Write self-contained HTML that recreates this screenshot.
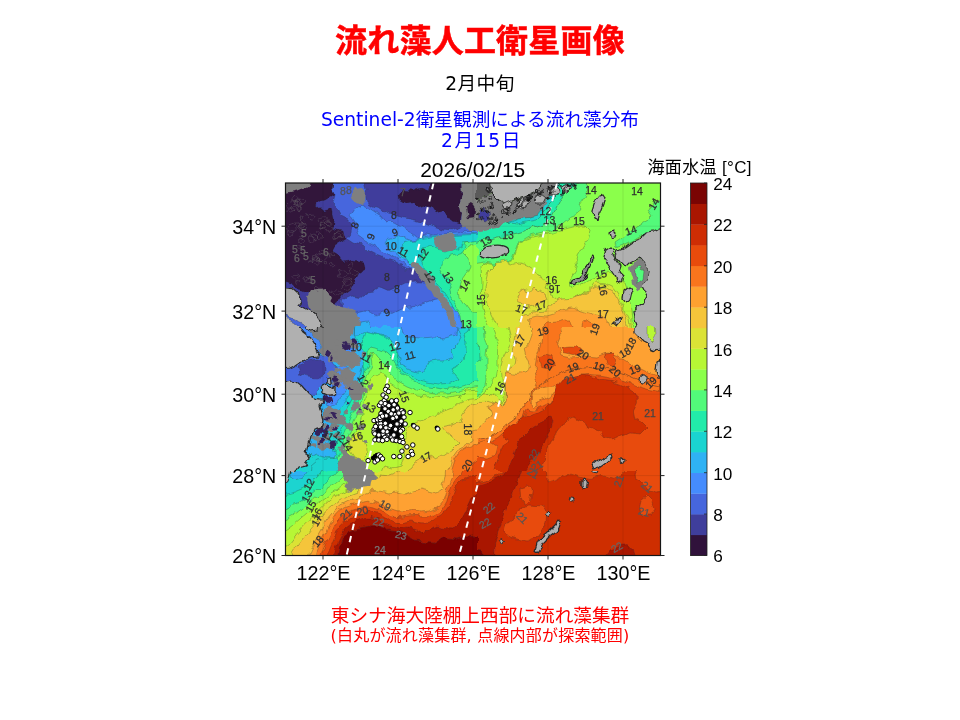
<!DOCTYPE html>
<html lang="ja"><head><meta charset="utf-8"><title>流れ藻人工衛星画像</title>
<style>
html,body{margin:0;padding:0;background:#fff;}
body{width:960px;height:720px;position:relative;overflow:hidden;font-family:"Liberation Sans","Noto Sans CJK JP",sans-serif;}
.t{position:absolute;white-space:nowrap;line-height:1;}
#title{left:0;width:960px;text-align:center;top:24.5px;letter-spacing:0.2px;font-size:32px;font-weight:700;-webkit-text-stroke:0.5px #f00;color:#f00;font-family:"Liberation Sans","Noto Sans CJK JP",sans-serif;}
#sub{left:0;width:960px;text-align:center;top:74.5px;letter-spacing:0.4px;font-size:18.67px;color:#000;font-family:"DejaVu Sans","Noto Sans CJK JP",sans-serif;}
#b1{left:0;width:960px;text-align:center;top:110.5px;font-size:18.67px;color:#00f;font-family:"DejaVu Sans","Noto Sans CJK JP",sans-serif;}
#b2{left:1.5px;width:960px;text-align:center;top:132px;letter-spacing:1.6px;font-size:18.67px;color:#00f;font-family:"DejaVu Sans","Noto Sans CJK JP",sans-serif;}
#r1{left:0;width:960px;text-align:center;top:607px;font-size:18.67px;color:#f00;font-family:"DejaVu Sans","Noto Sans CJK JP",sans-serif;}
#r2{left:0;width:960px;text-align:center;top:628px;letter-spacing:0.2px;font-size:16px;color:#f00;font-family:"DejaVu Sans","Noto Sans CJK JP",sans-serif;}
svg{position:absolute;left:0;top:0;}
.k{stroke:#2b2b2b;stroke-opacity:.6;stroke-width:2.4;stroke-linejoin:round}
svg text{font-family:"Liberation Sans","Noto Sans CJK JP",sans-serif;}
</style></head><body>
<div class="t" id="title">流れ藻人工衛星画像</div>
<div class="t" id="sub">2月中旬</div>
<div class="t" id="b1">Sentinel-2衛星観測による流れ藻分布</div>
<div class="t" id="b2">2月15日</div>
<div class="t" id="r1">東シナ海大陸棚上西部に流れ藻集群</div>
<div class="t" id="r2">(白丸が流れ藻集群, 点線内部が探索範囲)</div>
<svg width="960" height="720" viewBox="0 0 960 720">
<defs><clipPath id="mapclip"><rect x="285.5" y="183" width="375" height="372.5"/></clipPath></defs>
<filter id="rough" filterUnits="userSpaceOnUse" x="275.5" y="173" width="395" height="392.5"><feTurbulence type="fractalNoise" baseFrequency="0.11" numOctaves="2" seed="4" result="n"/><feDisplacementMap in="SourceGraphic" in2="n" scale="7" xChannelSelector="R" yChannelSelector="G"/></filter>
<g clip-path="url(#mapclip)">
<g filter="url(#rough)">
<rect x="285.5" y="183" width="375" height="372.5" fill="#ce2d04"/>
<svg x="281" y="179" width="196" height="148" viewBox="-20 -20 980 740" preserveAspectRatio="none" style="position:static">
<polygon fill="#3f3e9c" class="k" points="-20,-20 980,-20 980,740 -20,740"/>
<polygon fill="#4666dd" class="k" points="245,-20 235,30 250,60 240,100 270,130 280,160 320,180 335,215 330,250 310,275 340,295 390,310 420,340 460,360 500,375 540,385 580,410 610,430 640,440 700,460 980,460 980,230 880,215 830,235 790,230 740,215 700,200 650,185 600,175 560,165 530,145 500,150 470,130 440,120 410,100 400,60 410,30 400,-20"/>
<polygon fill="#4666dd" class="k" points="285,585 330,565 370,572 400,545 450,540 480,520 520,537 560,520 600,500 650,495 980,495 980,740 300,740"/>
<polygon fill="#458cfd" class="k" points="380,110 350,130 330,160 350,190 370,230 360,260 400,290 440,310 470,330 510,350 540,370 580,390 620,420 660,450 720,480 760,520 790,560 980,560 980,240 760,250 740,260 715,250 690,270 665,280 630,250 605,235 580,220 545,200 520,195 500,200 480,170 450,150 420,130"/>
<polygon fill="#458cfd" class="k" points="345,655 400,640 450,660 490,640 540,652 580,632 640,622 700,600 750,582 800,572 980,572 980,740 340,740"/>
<polygon fill="#2fb2f4" class="k" points="500,300 512,283 540,278 560,268 590,262 612,278 640,290 665,283 700,268 740,262 980,250 980,600 800,600 780,560 740,500 690,455 650,425 625,405 600,385 570,368 545,352 520,332"/>
<polygon fill="#2fb2f4" class="k" points="370,740 380,695 410,690 430,740"/>
<polygon fill="#1ad4d0" class="k" points="580,330 600,300 630,292 660,290 700,275 740,268 980,255 980,620 820,620 790,570 750,510 700,460 660,430 630,410 605,385 585,360"/>
<polygon fill="#22ebaa" class="k" points="690,325 720,318 760,335 800,345 850,330 900,300 980,290 980,640 850,640 830,600 790,540 760,500 730,470 700,420 680,380 680,350"/>
<polygon fill="#52fa7a" class="k" points="980,285 940,290 905,300 890,340 870,350 830,362 800,380 780,397 776,430 800,470 820,500 830,540 836,580 860,620 880,660 890,740 980,740"/>
<polygon fill="#8bff4b" class="k" points="980,305 930,310 900,332 892,352 920,380 925,420 910,450 882,490 866,530 870,570 890,600 910,630 940,650 980,655"/>
<polygon fill="#30123b" class="k" points="-20,-20 245,-20 235,30 250,60 225,75 180,90 155,110 190,140 230,130 242,180 235,230 290,240 300,280 250,310 235,340 270,360 290,400 330,390 400,400 405,430 370,450 350,490 330,530 290,560 270,590 240,610 200,640 180,600 140,560 100,540 60,530 30,500 -20,490"/>
<path d="M210,373 L198,384 L186,395 L173,388 L165,379 L150,364 L170,353 L187,353 L204,358Z M146,391 L141,399 L132,399 L118,397 L124,386 L132,384 L139,386Z M175,534 L169,543 L153,545 L152,534 L153,522 L167,525Z M63,198 L59,206 L49,205 L45,198 L51,192 L59,188Z M43,142 L31,152 L21,150 L13,142 L19,131 L36,126Z M236,545 L236,553 L227,552 L218,550 L220,542 L227,539 L233,540Z M126,474 L115,481 L109,489 L101,483 L89,480 L93,471 L103,466 L109,464 L113,469Z M157,380 L157,386 L150,389 L141,387 L142,380 L146,375 L150,371 L154,376Z M84,101 L76,112 L62,118 L51,109 L38,101 L50,91 L62,83 L73,90Z M246,401 L236,409 L226,409 L222,401 L228,396 L234,397Z M219,189 L211,201 L195,205 L182,206 L172,196 L168,181 L185,176 L196,174 L214,174Z M93,180 L95,186 L86,186 L73,190 L79,180 L74,170 L86,171 L96,172Z M341,410 L336,421 L324,419 L315,410 L325,400 L337,398Z M332,506 L323,529 L287,533 L287,506 L299,491 L320,487Z M95,213 L88,218 L82,226 L73,223 L68,219 L66,213 L71,208 L73,200 L83,198 L90,206Z M35,252 L34,263 L24,268 L14,260 L15,252 L12,242 L24,234 L38,239Z M235,222 L222,238 L205,239 L190,233 L180,212 L205,204 L220,211Z M208,399 L206,406 L197,405 L196,399 L197,393 L206,391Z M146,167 L137,175 L131,181 L120,177 L115,167 L118,153 L131,150 L141,158Z M192,270 L192,280 L179,280 L171,284 L166,276 L161,270 L167,265 L171,254 L181,255 L186,265Z M78,109 L71,120 L63,121 L57,116 L42,114 L46,103 L52,98 L63,97 L67,103Z M73,81 L59,88 L54,92 L45,93 L38,91 L35,81 L41,75 L46,67 L54,69 L62,71Z M97,288 L93,295 L86,296 L73,299 L67,288 L77,280 L86,276 L97,278Z M367,449 L352,459 L341,468 L326,457 L326,440 L337,424 L357,436Z M244,359 L243,369 L228,367 L219,372 L217,363 L217,355 L222,351 L230,342 L240,350Z M82,324 L78,330 L72,332 L66,331 L63,327 L57,320 L66,315 L73,313 L79,318Z M178,386 L175,398 L161,411 L143,399 L137,386 L138,368 L161,366 L177,371Z M99,89 L96,102 L77,104 L70,89 L79,73 L93,78Z M206,342 L202,347 L197,353 L188,354 L186,347 L171,342 L183,333 L191,334 L197,331 L200,337Z M57,108 L52,119 L43,123 L32,121 L18,121 L8,108 L19,96 L31,88 L41,96 L59,95Z M140,485 L132,496 L118,498 L99,494 L100,475 L116,461 L132,473Z M55,230 L56,242 L41,247 L24,246 L7,230 L22,213 L41,207 L53,219Z M164,265 L159,274 L149,276 L141,276 L139,268 L128,259 L143,256 L149,256 L155,260Z M177,386 L185,394 L173,393 L167,394 L161,393 L159,386 L159,379 L167,376 L176,371 L181,379Z M321,457 L296,469 L287,476 L272,475 L271,461 L273,452 L264,431 L287,439 L306,441Z M149,278 L140,287 L132,295 L125,286 L115,278 L120,264 L132,267 L140,270Z M94,217 L89,224 L80,227 L70,226 L71,217 L72,209 L80,210 L91,209Z M333,494 L319,504 L301,509 L285,494 L306,481 L320,479Z M74,491 L71,495 L66,496 L60,494 L59,488 L66,486 L72,487Z M225,354 L226,361 L216,365 L213,359 L204,354 L207,347 L216,348 L226,346Z M204,224 L197,233 L187,230 L177,224 L184,215 L194,217Z M94,271 L88,278 L82,281 L78,275 L70,271 L77,267 L82,261 L85,267Z M85,130 L77,145 L65,138 L53,130 L59,114 L79,116Z M141,502 L137,506 L134,511 L128,509 L125,507 L119,502 L122,495 L128,494 L134,492 L140,497Z M177,247 L175,252 L169,253 L164,253 L159,247 L160,240 L169,240 L175,239Z M292,264 L282,278 L270,276 L245,282 L249,264 L251,248 L270,246 L284,247Z M92,322 L91,327 L87,329 L82,327 L74,326 L77,319 L83,317 L89,311 L93,316Z M79,124 L75,145 L55,139 L29,145 L25,124 L39,111 L55,109 L71,109Z M231,194 L225,204 L213,209 L203,204 L200,197 L201,190 L206,187 L212,186 L220,186Z M128,468 L128,474 L121,474 L119,470 L115,464 L120,461 L129,461Z M110,225 L99,242 L78,240 L60,225 L77,204 L100,201Z M69,466 L58,472 L50,482 L45,472 L38,466 L45,460 L50,457 L61,456Z M292,555 L269,565 L258,567 L249,562 L245,546 L258,534 L274,542Z M178,378 L176,386 L167,390 L165,381 L161,374 L168,367 L176,373Z M275,261 L269,281 L243,277 L238,261 L248,250 L263,249Z" fill="none" stroke="#6a6a6a" stroke-opacity="0.85" stroke-width="2.2"/>
<polygon fill="#30123b" class="k" points="570,60 590,35 640,40 680,25 720,40 735,-20 880,-20 885,60 870,110 880,160 870,200 840,190 820,160 790,140 760,150 740,120 700,110 670,120 640,100 600,105 575,90"/>
<polygon fill="#7f7f7f" points="-20,-20 150,-20 110,18 60,38 -20,55"/>
<polygon fill="#7f7f7f" points="330,50 350,25 390,20 405,50 400,90 380,110 350,100 335,80"/>
<polygon fill="#7f7f7f" points="880,-20 980,-20 980,250 920,240 890,220 875,200 880,160 870,110 885,60"/>
<polygon fill="#30123b" class="k" points="905,120 930,100 950,130 945,170 915,175"/>
<polygon fill="#7f7f7f" points="745,290 760,262 800,250 840,255 862,280 860,315 830,340 790,345 755,325"/>
<polygon fill="#7f7f7f" points="640,395 665,400 700,430 730,470 760,510 790,555 815,595 840,640 860,740 835,740 815,660 780,600 750,560 720,530 690,490 655,450 635,420"/>
<polygon fill="#7f7f7f" points="130,540 200,530 230,590 280,620 340,630 380,670 375,740 175,740 170,700 150,660 120,620 110,575"/>
<polygon fill="#b0b0b0" stroke="#2a2a2a" stroke-width="6" points="-20,522 35,528 65,555 85,590 70,610 100,625 140,645 170,680 195,740 -20,740"/>
<polygon fill="#4666dd" class="k" points="10,665 40,680 90,700 130,740 100,740 60,705 15,685"/>
</svg>
<svg x="281" y="327" width="196" height="144" viewBox="-20 0 980 720" preserveAspectRatio="none" style="position:static">
<polygon fill="#b7f735" class="k" points="-20,-20 980,-20 980,740 -20,740"/>
<polygon fill="#8bff4b" class="k" points="980,315 900,320 880,340 880,360 875,340 820,350 760,345 705,350 655,345 620,330 580,325 570,305 530,280 500,250 480,225 450,240 425,270 410,300 405,360 390,410 380,460 370,490 350,520 335,550 320,580 310,610 300,630 260,740 -20,740 -20,-20 980,-20"/>
<polygon fill="#52fa7a" class="k" points="980,295 920,305 870,320 820,330 760,330 710,325 660,315 610,295 565,270 530,240 510,200 480,170 460,150 440,125 430,150 435,190 420,225 400,260 390,300 385,360 370,410 350,460 330,510 315,550 305,585 295,620 250,740 -20,740 -20,-20 980,-20"/>
<polygon fill="#22ebaa" class="k" points="980,270 930,280 890,295 840,305 780,310 720,300 670,285 620,260 580,230 555,200 535,150 510,125 480,115 455,105 430,100 415,130 420,170 405,215 385,250 375,300 368,360 350,410 330,460 305,510 290,560 280,600 240,740 -20,740 -20,-20 980,-20"/>
<polygon fill="#1ad4d0" class="k" points="930,-20 920,20 895,40 905,75 905,125 895,165 870,190 830,210 850,240 865,260 830,280 765,285 705,275 645,255 600,230 565,200 555,160 560,125 605,115 580,90 530,65 480,40 440,30 400,20 390,60 385,100 380,125 385,165 395,215 390,265 370,300 350,330 330,370 310,410 295,450 285,500 270,540 255,580 250,620 230,740 -20,740 -20,-20"/>
<polygon fill="#2fb2f4" class="k" points="860,-20 870,20 880,50 860,90 830,120 840,155 800,170 760,170 720,175 705,200 680,230 630,215 580,190 560,125 545,80 520,50 480,35 440,25 400,15 370,40 345,40 350,-20"/>
<polygon fill="#2fb2f4" class="k" points="350,-20 345,40 370,80 395,120 400,150 385,200 375,250 355,290 335,320 300,370 270,410 250,450 235,500 215,535 225,580 240,610 260,640 250,660 200,650 160,640 130,650 110,630 -20,630 -20,-20"/>
<polygon fill="#458cfd" class="k" points="575,-20 590,30 620,50 680,55 740,50 800,55 855,40 860,-20"/>
<polygon fill="#458cfd" class="k" points="295,95 350,95 350,125 300,125"/>
<polygon fill="#458cfd" class="k" points="240,190 280,190 320,210 340,250 320,300 290,340 260,380 230,400 200,390 210,340 230,290 250,240"/>
<polygon fill="#458cfd" class="k" points="55,-20 90,-20 130,35 170,70 185,100 170,135 155,100 130,60 90,30"/>
<polygon fill="#1ad4d0" class="k" points="125,740 130,690 160,665 220,660 260,665 275,690 270,740"/>
<polygon fill="#4666dd" class="k" points="-20,210 25,205 55,190 85,170 120,155 165,150 200,140 240,170 260,220 250,260 220,280 180,300 140,340 115,330 90,300 60,275 30,270 -20,280"/>
<polygon fill="#3f3e9c" class="k" points="65,200 100,170 160,160 200,190 200,230 160,255 110,250 75,235"/>
<polygon fill="#dbe236" class="k" points="980,355 920,362 880,380 840,400 800,415 760,435 720,455 680,470 630,490 605,510 600,550 590,600 600,650 580,690 540,700 500,690 480,740 980,740"/>
<polygon fill="#dbe236" class="k" points="320,580 340,550 360,530 385,545 400,580 410,620 405,655 380,665 350,650 330,620"/>
<polygon fill="#f5c53a" class="k" points="980,372 920,388 900,415 880,445 890,475 830,490 780,500 800,525 830,550 870,580 840,610 800,640 760,660 730,640 700,660 670,665 645,680 630,705 580,740 980,740"/>
<polygon fill="#fea130" class="k" points="815,740 835,655 860,620 905,595 935,575 930,540 940,515 980,505 980,740"/>
<polygon fill="#f9751d" class="k" points="830,740 850,660 870,630 910,605 980,578 980,740"/>
<polygon fill="#e84b0c" class="k" points="925,740 940,685 980,655 980,740"/>
<polygon fill="#7f7f7f" points="165,-20 350,-20 340,30 330,60 350,90 300,100 310,120 360,135 380,165 350,200 320,200 280,190 240,170 210,145 170,135 185,100 170,70 130,35 100,-20"/>
<polygon fill="#7f7f7f" points="320,290 350,270 380,290 385,330 370,365 340,370 320,340"/>
<polygon fill="#7f7f7f" points="190,410 230,395 270,420 285,460 310,480 290,495 250,490 210,480 190,450"/>
<polygon fill="#7f7f7f" points="260,600 300,620 350,650 400,670 415,700 400,740 250,740 270,680 280,640"/>
<polygon fill="#7f7f7f" points="280,215 320,205 350,230 340,270 300,290 275,260"/>
<path d="M334,559 L328,567 L325,572 L311,564 L305,556 L305,553 L319,545 L326,553Z M307,260 L297,265 L288,267 L286,261 L282,255 L293,253 L302,254Z M320,426 L315,430 L303,433 L297,426 L300,422 L308,416 L319,417Z M259,240 L246,246 L237,243 L232,226 L258,224Z M413,572 L415,578 L403,581 L400,578 L391,572 L397,565 L404,566 L409,567Z M267,474 L261,481 L243,480 L242,473 L244,461 L260,463Z M254,504 L248,512 L234,516 L223,514 L217,507 L222,501 L236,498 L244,502Z M282,430 L281,435 L265,439 L262,437 L251,430 L262,424 L272,419 L276,419Z M233,597 L220,606 L200,599 L198,589 L221,582Z M200,138 L197,149 L191,152 L182,141 L178,137 L185,129 L201,130Z M341,295 L328,311 L315,316 L297,306 L303,290 L311,280 L327,284Z M353,291 L346,296 L337,303 L326,296 L317,286 L327,276 L336,276 L352,277Z M199,591 L194,601 L186,609 L164,602 L162,586 L162,579 L187,572 L199,578Z M226,559 L223,569 L209,576 L202,564 L202,554 L216,544 L225,552Z M341,490 L331,510 L301,500 L302,482 L330,480Z M181,501 L167,513 L155,517 L149,503 L151,496 L164,489Z M203,570 L199,584 L168,578 L167,559 L197,558Z M407,137 L401,145 L383,144 L384,134 L387,124 L405,125Z M275,551 L268,561 L253,566 L247,562 L249,551 L256,541 L268,545Z M274,276 L259,284 L245,283 L252,273 L265,268Z M424,398 L422,411 L396,414 L387,397 L398,383 L415,386Z M256,454 L245,464 L233,460 L218,460 L223,449 L227,438 L250,444Z M290,86 L289,98 L276,92 L268,83 L284,80Z M443,299 L432,308 L419,311 L415,295 L415,286 L439,281Z M200,598 L189,608 L168,609 L174,591 L194,581Z M363,397 L369,413 L336,412 L335,398 L341,389 L365,386Z M232,531 L224,535 L220,537 L216,532 L211,525 L220,522 L231,525Z M249,158 L246,162 L228,173 L214,164 L219,145 L233,141 L244,137Z M289,291 L273,305 L254,301 L240,288 L257,277 L270,282Z M234,118 L238,126 L220,131 L211,125 L208,116 L214,108 L221,105 L235,110Z M404,494 L391,515 L376,515 L363,497 L376,487 L400,484Z M253,435 L246,444 L236,439 L232,428 L249,425Z M227,553 L231,563 L209,569 L197,563 L196,556 L189,543 L210,536 L230,545Z M292,253 L272,272 L252,267 L250,243 L276,236Z M209,449 L197,463 L189,458 L174,447 L183,442 L198,434Z M207,495 L195,502 L183,511 L175,506 L172,491 L174,481 L188,483 L198,485Z M199,135 L190,141 L184,142 L178,140 L178,134 L184,131 L195,132Z M293,469 L289,473 L285,476 L280,473 L279,470 L280,467 L284,464 L287,464Z M279,211 L271,220 L255,229 L245,217 L251,208 L260,204 L270,201Z M260,115 L251,126 L240,122 L235,111 L250,111Z M346,281 L340,286 L332,288 L324,284 L331,277 L338,277Z M377,398 L374,405 L360,407 L357,407 L354,397 L348,389 L366,387 L374,392Z M235,338 L230,343 L226,348 L216,344 L216,339 L218,334 L225,333 L233,336Z M156,553 L150,559 L138,557 L134,552 L134,541 L147,544Z M246,419 L236,426 L225,429 L210,422 L222,406 L237,409Z M376,98 L364,109 L350,112 L342,99 L345,86 L357,86Z M324,415 L320,425 L307,421 L308,412 L315,407Z M269,500 L254,512 L234,513 L227,495 L241,489 L252,484Z M306,454 L301,461 L288,464 L276,466 L274,456 L276,444 L283,445 L293,446Z M300,594 L299,601 L289,597 L288,591 L294,590Z M286,274 L279,287 L267,283 L267,267 L279,264Z M220,542 L215,554 L198,548 L196,540 L215,538Z M311,165 L308,173 L298,171 L291,167 L297,159 L305,160Z M205,580 L188,595 L159,591 L160,568 L187,562Z M250,468 L248,475 L239,477 L233,474 L229,469 L224,459 L237,454 L252,459Z M358,411 L355,415 L348,417 L344,417 L346,410 L348,408 L355,407Z M237,438 L237,440 L230,441 L227,440 L223,437 L225,433 L231,431 L236,434Z M273,249 L258,258 L250,258 L236,261 L227,244 L233,236 L244,233 L259,237Z M303,598 L291,610 L273,609 L263,597 L276,586 L293,586Z M183,561 L172,567 L158,569 L146,565 L145,556 L158,543 L170,547Z M408,309 L404,324 L380,328 L375,317 L372,305 L386,295 L400,299Z M332,189 L317,199 L290,196 L293,178 L316,179Z M292,156 L290,168 L278,171 L255,160 L260,145 L277,145 L285,142Z M244,150 L246,156 L233,161 L228,154 L226,144 L232,142 L239,144Z M162,558 L156,563 L141,566 L131,563 L128,552 L140,549 L154,549Z M354,279 L351,293 L328,293 L323,280 L329,268 L350,268Z M152,588 L151,597 L138,599 L131,596 L119,591 L132,581 L138,581 L155,582Z M283,84 L270,93 L260,94 L249,95 L249,87 L245,74 L258,73 L270,79Z M303,191 L299,204 L290,204 L273,193 L260,194 L272,179 L284,175 L300,180Z M382,434 L380,442 L364,442 L352,443 L351,431 L368,421 L381,424Z M273,533 L260,543 L255,548 L244,549 L243,535 L246,528 L256,521 L268,530Z M206,102 L202,110 L197,108 L188,109 L188,102 L183,97 L192,92 L202,96Z M359,124 L352,134 L333,137 L328,133 L329,121 L341,110 L352,116Z M341,195 L344,208 L322,206 L307,193 L322,186 L336,183Z M272,239 L266,255 L259,256 L247,247 L244,232 L254,232 L268,228Z M221,451 L214,466 L196,456 L194,446 L205,442Z M355,380 L355,386 L348,391 L341,384 L342,378 L348,376 L353,377Z M284,216 L281,222 L273,221 L266,220 L264,215 L265,207 L274,205 L281,210Z M257,201 L253,208 L243,204 L242,196 L248,196Z M246,232 L244,242 L233,250 L216,239 L215,228 L234,222 L249,222Z M141,534 L134,545 L124,540 L117,525 L139,521Z M261,308 L254,319 L238,317 L241,306 L254,301Z M234,426 L222,443 L207,438 L203,422 L221,421Z M263,475 L252,478 L238,477 L244,470 L255,464Z M271,457 L270,462 L256,474 L250,470 L245,455 L249,444 L257,448 L272,451Z M326,76 L323,83 L311,82 L306,79 L303,74 L308,70 L316,71Z M195,111 L195,124 L175,125 L170,113 L182,105 L191,104Z M200,366 L192,369 L186,370 L182,365 L186,361 L194,359Z M267,283 L269,294 L254,300 L241,288 L235,269 L248,268 L262,272Z" fill="#7f7f7f"/>
<path d="M278,281 L276,291 L265,293 L259,286 L257,278 L271,276 L277,275Z M234,367 L233,383 L208,377 L203,360 L228,351Z M231,461 L214,467 L192,465 L194,454 L212,451Z M181,586 L175,589 L168,590 L164,587 L165,582 L168,580 L178,579Z M213,541 L200,555 L184,557 L180,551 L180,536 L189,532 L206,533Z M221,531 L218,533 L208,538 L199,535 L199,527 L205,525 L209,519 L221,524Z M269,286 L265,291 L255,289 L245,285 L251,277 L265,275Z M192,504 L179,513 L164,515 L159,506 L154,500 L168,489 L185,487Z M195,373 L195,379 L186,379 L182,374 L184,364 L191,364Z M345,310 L333,315 L324,312 L317,307 L325,298 L332,301Z M365,77 L366,87 L353,91 L341,83 L340,76 L346,67 L368,68Z M228,501 L219,513 L208,517 L196,508 L208,491 L222,496Z M312,84 L308,86 L302,88 L294,86 L291,80 L301,77 L305,74Z M322,376 L321,385 L306,387 L307,381 L306,374 L311,369 L319,372Z M257,444 L262,457 L240,460 L233,449 L228,435 L241,430 L259,436Z M215,351 L213,364 L194,364 L189,356 L190,343 L195,335 L205,344Z M200,509 L189,530 L166,519 L166,504 L183,505Z M250,160 L244,163 L236,166 L229,165 L229,163 L227,156 L235,151 L247,156Z M378,417 L377,422 L369,425 L364,422 L362,415 L366,411 L375,414Z M275,259 L268,270 L252,275 L242,261 L250,247 L267,251Z M208,521 L200,526 L194,534 L180,523 L183,515 L190,509 L209,511Z M322,103 L319,113 L302,118 L288,105 L287,102 L290,91 L301,87 L325,88Z M180,527 L172,544 L160,545 L149,536 L149,522 L164,510 L173,515Z M216,308 L213,321 L203,322 L186,318 L189,312 L194,307 L202,300 L212,305Z M243,304 L239,308 L229,310 L224,305 L234,299 L238,295Z M240,132 L221,150 L207,146 L198,136 L211,126 L221,118Z M269,296 L270,303 L251,300 L242,295 L249,282 L263,287Z M244,332 L236,343 L225,343 L209,340 L202,329 L212,321 L224,310 L237,324Z M263,504 L254,511 L246,512 L239,506 L246,502 L253,498Z M257,585 L254,594 L249,609 L225,603 L226,590 L235,579 L245,578 L256,577Z M205,573 L192,580 L173,582 L172,571 L180,557 L190,564Z" fill="#34205a"/>
<polygon fill="#b0b0b0" stroke="#2a2a2a" stroke-width="6" points="-20,-20 55,-20 90,30 130,60 155,100 170,135 165,150 120,155 85,170 55,190 25,205 -20,210"/>
<polygon fill="#b0b0b0" stroke="#2a2a2a" stroke-width="6" points="-20,280 30,270 60,275 90,300 115,330 140,350 165,360 195,360 170,390 180,430 190,470 180,500 145,510 130,550 120,590 110,630 120,660 100,690 60,700 35,740 -20,740"/>
<polygon fill="#b0b0b0" stroke="#2a2a2a" stroke-width="5" points="95,-20 165,-20 160,20 130,25 100,15"/>
<polygon fill="#b0b0b0" stroke="#2a2a2a" stroke-width="6" points="185,300 215,290 250,305 248,335 215,342 190,330"/>
<polygon fill="#b0b0b0" stroke="#2a2a2a" stroke-width="6" points="210,255 232,250 236,275 215,282"/>
</svg>
<svg x="281" y="471" width="196" height="144" viewBox="-20 0 980 720" preserveAspectRatio="none" style="position:static">
<polygon fill="#1ad4d0" class="k" points="-20,-20 980,-20 980,740 -20,740"/>
<polygon fill="#2fb2f4" class="k" points="35,-20 117,-20 100,25 60,38 30,30"/>
<polygon fill="#22ebaa" class="k" points="192,-20 163,29 128,58 88,88 47,105 -20,122 -20,740 980,740 980,-20"/>
<polygon fill="#52fa7a" class="k" points="270,-20 257,12 222,47 175,82 134,117 88,146 47,169 -20,192 -20,740 980,740 980,-20"/>
<polygon fill="#8bff4b" class="k" points="300,-20 292,35 257,64 210,93 169,122 128,157 88,187 47,216 -20,251 -20,740 980,740 980,-20"/>
<polygon fill="#b7f735" class="k" points="310,30 303,64 274,88 233,111 192,140 157,169 117,204 76,239 35,274 -20,315 -20,740 980,740 980,-20 310,-20"/>
<polygon fill="#dbe236" class="k" points="330,40 327,88 280,111 239,134 204,163 169,198 134,233 93,274 58,315 23,362 -20,397 -20,740 980,740 980,-20 330,-20"/>
<polygon fill="#f5c53a" class="k" points="600,-20 560,10 520,25 470,20 440,40 400,60 362,105 315,122 274,146 233,175 198,210 163,251 128,292 93,338 58,385 35,422 35,740 980,740 980,-20"/>
<polygon fill="#fea130" class="k" points="805,-20 800,20 795,50 788,90 760,110 720,100 680,90 640,100 600,115 560,105 520,110 470,100 430,95 420,111 373,128 327,146 280,169 245,198 216,233 192,274 169,315 146,356 128,397 117,422 117,740 980,740 980,-20"/>
<polygon fill="#f9751d" class="k" points="845,-20 835,20 825,45 815,70 805,100 790,150 760,185 720,200 680,205 640,195 590,205 560,204 525,192 490,169 455,157 420,146 385,152 350,163 309,175 274,192 251,216 233,245 216,280 198,321 175,362 157,402 152,422 152,740 980,740 980,-20"/>
<polygon fill="#e84b0c" class="k" points="980,-20 900,-20 880,15 855,40 835,70 820,110 805,160 780,198 740,220 700,232 660,222 610,225 560,233 525,222 490,198 455,187 420,181 385,181 350,192 315,204 286,222 262,245 245,274 227,315 204,362 187,402 181,422 181,740 980,740"/>
<polygon fill="#ce2d04" class="k" points="980,15 925,35 885,50 855,80 840,120 820,175 790,215 750,240 720,262 680,258 630,250 580,258 560,257 525,245 496,233 467,210 432,204 397,210 362,222 327,233 297,251 274,274 257,309 239,350 222,391 210,422 210,740 980,740"/>
<polygon fill="#a91601" class="k" points="980,100 930,135 900,200 870,255 840,290 800,288 760,280 720,300 700,318 660,292 620,280 570,285 560,280 525,274 496,257 467,239 432,233 397,239 362,251 332,262 309,280 286,309 268,344 251,379 239,422 239,740 980,740"/>
<polygon fill="#7a0403" class="k" points="980,320 900,330 850,340 800,332 760,355 700,352 650,345 600,318 560,303 525,297 502,286 467,274 432,274 397,280 362,286 332,297 309,315 286,338 274,373 265,422 265,740 980,740"/>
<polygon fill="#7f7f7f" points="286,-20 449,-20 455,29 432,47 426,82 385,88 350,93 315,99 297,82 309,58 292,35"/>
<polygon fill="#b0b0b0" stroke="#2a2a2a" stroke-width="5" points="-20,-20 32,-20 22,40 8,70 -20,85"/>
</svg>
<svg x="477" y="179" width="192" height="148" viewBox="0 -20 960 740" preserveAspectRatio="none" style="position:static">
<polygon fill="#8bff4b" class="k" points="-20,-20 980,-20 980,740 -20,740"/>
<polygon fill="#52fa7a" class="k" points="-20,300 50,285 100,270 150,262 200,250 250,235 300,215 340,200 375,165 400,120 420,80 440,40 480,25 520,-20 560,-20 555,40 540,75 500,100 520,130 500,160 460,175 430,200 405,215 370,240 330,250 280,262 240,275 205,300 190,340 175,380 140,400 90,405 40,395 -20,405"/>
<polygon fill="#22ebaa" class="k" points="-20,215 50,200 100,205 160,200 210,180 260,170 310,160 340,140 360,110 385,80 400,40 420,-20 520,-20 480,25 440,40 420,80 400,120 375,165 340,200 300,215 250,235 200,250 150,262 100,270 50,285 -20,300"/>
<polygon fill="#1ad4d0" class="k" points="-20,195 40,180 90,185 140,175 190,160 240,150 290,140 320,120 340,90 360,50 375,-20 420,-20 400,40 385,80 360,110 340,140 310,160 260,170 210,180 160,200 100,205 50,200 -20,215"/>
<polygon fill="#2fb2f4" class="k" points="330,60 350,30 370,-20 385,-20 365,45 345,85 320,110"/>
<polygon fill="#52fa7a" class="k" points="980,70 880,90 860,130 880,160 850,190 800,220 760,250 720,280 690,300 700,322 740,307 790,282 830,257 880,242 980,225"/>
<polygon fill="#b7f735" class="k" points="20,420 40,400 90,410 140,405 180,385 195,340 210,300 245,280 290,268 340,258 380,250 420,235 460,225 500,215 540,215 560,235 555,270 540,300 520,330 500,345 490,380 498,410 488,440 470,470 462,510 470,530 520,510 560,485 600,470 625,455 655,440 700,470 740,500 760,560 770,640 780,740 60,740 35,650 20,580 25,500"/>
<polygon fill="#dbe236" class="k" points="60,440 100,400 140,390 170,410 210,400 250,410 280,430 300,460 330,470 350,500 340,525 370,540 380,570 420,590 460,585 500,570 540,545 580,520 600,495 640,500 680,520 710,560 720,600 740,640 760,680 770,740 110,740 70,660 50,600 40,520"/>
<polygon fill="#f5c53a" class="k" points="215,740 220,680 235,655 280,645 350,640 380,600 425,580 480,575 520,560 560,540 600,520 640,520 680,540 705,580 720,620 740,660 755,740"/>
<polygon fill="#f5c53a" class="k" points="200,560 230,535 260,545 280,520 300,540 340,555 350,580 320,600 290,620 260,625 230,600 205,590"/>
<polygon fill="#fea130" class="k" points="255,740 260,675 300,665 350,670 400,655 435,630 480,625 520,640 570,655 620,665 660,690 680,740"/>
<polygon fill="#f9751d" class="k" points="310,740 350,700 400,695 440,685 470,685 485,740"/>
<polygon fill="#f9751d" class="k" points="520,740 530,695 560,685 585,700 590,740"/>
<polygon fill="#7f7f7f" points="-20,110 30,70 70,45 110,85 150,105 200,85 250,65 300,45 330,-20 400,-20 385,40 350,85 325,125 300,160 260,172 220,190 180,182 150,200 120,220 80,228 40,235 -20,245"/>
<polygon fill="#3f3e9c" class="k" points="10,140 35,125 60,140 65,175 40,195 15,185"/>
<polygon fill="#1ad4d0" class="k" points="150,200 200,180 260,172 300,160 320,135 335,150 300,185 250,195 200,205"/>
<polygon fill="#5a5a5a" points="-20,-20 60,-20 70,45 30,70 -20,110"/>
<polygon fill="#b0b0b0" stroke="#2a2a2a" stroke-width="5" points="60,-20 330,-20 300,45 250,65 200,85 150,105 110,85 70,45"/>
<polygon fill="#b0b0b0" stroke="#222" stroke-width="4" points="120,100 150,85 175,100 160,125 130,128"/>
<polygon fill="#b0b0b0" stroke="#222" stroke-width="4" points="200,95 235,75 262,92 250,120 215,125"/>
<polygon fill="#b0b0b0" stroke="#222" stroke-width="4" points="285,70 320,50 345,70 330,100 295,100"/>
<polygon fill="#b0b0b0" stroke="#222" stroke-width="4" points="360,30 390,15 410,35 395,60 368,58"/>
<polygon fill="#b0b0b0" stroke="#222" stroke-width="4" points="420,20 450,5 475,25 455,45 430,45"/>
<path d="M60,138 L52,141 L45,142 L45,130 L50,129Z M64,78 L63,82 L59,82 L55,81 L52,80 L56,76 L60,75 L61,77Z M84,126 L81,131 L77,135 L71,131 L67,127 L66,120 L75,119 L83,120Z M7,176 L6,179 L4,178 L2,178 L2,174 L4,171 L7,174Z M38,100 L31,106 L20,106 L21,96 L30,93Z M27,129 L25,134 L22,134 L19,130 L17,127 L20,125 L24,126Z M60,36 L58,46 L46,39 L46,28 L53,26Z M9,83 L7,86 L3,85 L1,82 L1,76 L8,78Z M44,68 L42,70 L38,71 L37,69 L36,66 L39,62 L43,63Z M61,173 L60,177 L54,177 L51,171 L56,168 L61,167Z M77,73 L72,76 L68,80 L59,74 L56,68 L62,64 L68,61 L73,64Z M58,140 L51,147 L45,144 L43,135 L53,137Z M77,28 L77,35 L71,39 L64,39 L63,31 L64,24 L69,18 L75,24Z M55,28 L53,30 L48,33 L43,29 L43,25 L48,21 L51,22Z M72,123 L71,127 L63,127 L61,125 L58,120 L63,115 L71,119Z M29,174 L28,182 L22,181 L14,182 L16,177 L16,173 L21,170 L25,172Z M12,92 L9,101 L0,103 L-5,100 L-5,90 L1,86 L8,87Z M36,134 L30,142 L24,139 L22,132 L32,129Z M86,120 L83,129 L76,131 L73,125 L67,119 L71,114 L76,114 L85,113Z M83,100 L79,109 L74,103 L72,96 L82,96Z M8,154 L7,159 L0,157 L1,151 L5,150Z M12,75 L10,79 L7,77 L6,72 L10,70Z M305,43 L301,46 L296,47 L291,43 L292,40 L295,33 L302,34Z M235,97 L233,101 L228,98 L228,94 L233,92Z M323,62 L315,65 L308,63 L308,56 L317,52Z M172,146 L174,149 L167,150 L163,149 L160,146 L158,138 L166,138 L170,140Z M331,38 L330,44 L323,43 L321,40 L323,35 L329,33Z M110,178 L101,183 L94,181 L93,170 L102,170Z M83,165 L81,168 L75,170 L74,166 L74,164 L77,158 L81,160Z M203,106 L202,108 L199,109 L195,106 L194,103 L196,100 L201,101Z M318,41 L317,51 L315,53 L309,47 L304,41 L307,38 L312,33 L316,39Z M97,194 L96,203 L88,202 L82,196 L86,185 L98,185Z M246,88 L241,91 L237,91 L237,87 L236,82 L241,84Z M125,179 L122,182 L120,181 L119,177 L123,176Z M109,182 L105,184 L101,181 L102,179 L104,177Z M132,148 L129,156 L119,158 L118,153 L117,142 L122,139 L134,139Z M231,112 L232,115 L228,117 L224,115 L222,113 L224,109 L228,107 L231,108Z M292,84 L291,87 L289,87 L286,88 L285,83 L286,81 L289,79 L292,80Z M164,132 L163,139 L156,138 L151,131 L155,124 L165,124Z M212,89 L208,92 L203,92 L200,83 L208,83Z M311,58 L306,63 L301,60 L303,56 L307,53Z M159,154 L155,160 L149,159 L149,151 L158,147Z M270,73 L270,78 L266,78 L263,74 L262,72 L266,67 L270,70Z M194,140 L191,146 L187,147 L182,144 L183,140 L184,136 L189,139Z M312,46 L308,49 L304,50 L304,46 L305,43 L308,43Z M232,108 L224,115 L218,111 L217,108 L217,101 L226,99Z M262,69 L256,76 L255,78 L248,78 L244,72 L251,68 L255,62 L258,69Z M161,155 L159,163 L151,157 L150,151 L157,150Z M143,147 L141,151 L139,157 L129,156 L126,149 L130,135 L132,134 L142,136Z M88,206 L90,212 L84,214 L77,210 L79,206 L76,202 L83,197 L91,201Z M196,141 L192,148 L186,150 L183,143 L186,138 L196,133Z M260,83 L261,85 L256,86 L255,85 L252,81 L254,81 L257,79 L260,80Z M270,71 L266,79 L254,76 L253,65 L267,66Z M76,178 L72,185 L64,183 L65,178 L70,175Z M158,128 L154,134 L144,130 L149,122 L153,118Z M104,185 L101,192 L98,193 L96,190 L91,186 L91,183 L96,178 L102,182Z M288,50 L287,53 L283,53 L279,50 L281,47 L282,46 L287,46Z M75,199 L71,207 L63,205 L63,196 L72,194Z M220,110 L216,113 L210,112 L208,105 L215,102Z M208,122 L207,125 L201,128 L191,124 L194,118 L199,110 L207,112Z M305,40 L302,47 L294,44 L292,42 L293,33 L300,34Z M264,72 L261,81 L254,84 L248,77 L245,71 L249,65 L259,70Z M380,21 L382,29 L371,33 L368,27 L366,23 L365,18 L372,17 L381,15Z M495,16 L494,22 L488,21 L486,18 L489,14 L492,13Z M494,14 L488,19 L483,23 L479,15 L483,8 L488,10Z M459,11 L455,19 L449,18 L450,10 L454,6Z M436,44 L435,47 L433,50 L429,49 L427,45 L429,41 L433,39 L434,41Z M485,5 L481,8 L477,9 L475,8 L473,4 L472,1 L478,-0 L483,2Z M386,43 L384,52 L371,49 L372,42 L381,40Z M364,70 L362,74 L351,75 L351,68 L353,65 L361,64Z M430,13 L427,16 L426,16 L423,14 L422,13 L422,7 L425,8 L427,8Z M453,28 L447,34 L444,35 L441,31 L443,26 L447,24Z M378,49 L376,52 L372,55 L367,50 L370,44 L376,42Z M476,13 L474,15 L468,16 L467,11 L469,8 L473,7Z M463,8 L461,14 L457,14 L454,10 L456,5 L460,2Z M497,31 L493,37 L487,35 L487,28 L495,27Z M498,16 L497,18 L494,22 L492,18 L490,15 L490,12 L493,10 L498,13Z M444,42 L434,46 L425,47 L427,37 L436,32Z M430,54 L428,56 L422,57 L418,55 L417,47 L422,48 L427,46Z M420,3 L413,9 L401,5 L405,-1 L413,-8Z M399,11 L398,15 L393,19 L390,15 L389,14 L388,7 L395,4 L399,4Z M379,18 L376,23 L370,24 L366,18 L370,13 L375,14Z M383,41 L380,46 L377,46 L374,41 L373,38 L377,38 L379,37Z M493,15 L490,19 L486,21 L484,15 L485,11 L491,10Z M467,12 L465,17 L460,19 L457,17 L455,9 L458,9 L462,10Z M360,72 L357,77 L351,76 L350,71 L351,65 L356,66Z M370,66 L371,72 L360,76 L356,72 L356,65 L363,62 L367,58Z" fill="#9a9a9a" fill-opacity="0.5" stroke="#0c0c0c" stroke-width="3.6"/>
<polygon fill="#b0b0b0" stroke="#2a2a2a" stroke-width="6" points="917,225 880,245 845,250 820,275 790,285 760,305 725,330 700,340 690,365 715,395 740,420 760,400 790,385 815,370 840,400 855,440 850,480 830,520 850,560 830,600 800,620 780,650 790,700 800,740 980,740 980,225"/>
<polygon fill="#b0b0b0" stroke="#2a2a2a" stroke-width="6" points="640,330 665,315 690,330 680,360 700,390 720,420 710,450 730,470 720,500 700,490 690,460 670,430 650,400 630,370"/>
<polygon fill="#7f7f7f" points="760,420 790,390 815,375 840,400 855,440 850,480 830,520 800,540 780,500 770,460"/>
<polygon fill="#52fa7a" class="k" points="790,430 815,410 835,440 830,480 805,500 790,470"/>
<polygon fill="#b0b0b0" stroke="#2a2a2a" stroke-width="6" points="735,540 760,520 775,545 765,590 745,600 730,580"/>
<polygon fill="#b0b0b0" stroke="#2a2a2a" stroke-width="6" points="585,175 580,140 590,110 600,85 615,65 630,60 640,75 630,110 615,150 605,185"/>
<polygon fill="#b0b0b0" stroke="#2a2a2a" stroke-width="6" points="665,250 680,240 695,255 690,275 672,278"/>
<polygon fill="#8a8a8a" stroke="#222" stroke-width="6" points="470,500 480,480 510,470 530,450 550,420 565,380 575,365 580,385 565,420 550,460 530,480 510,500 490,515"/>
<polygon fill="#b0b0b0" stroke="#2a2a2a" stroke-width="6" points="680,705 700,680 720,665 715,690 695,715"/>
<ellipse cx="85" cy="345" rx="74" ry="33" transform="rotate(-8 85 345)" fill="#b0b0b0" stroke="#2a2a2a" stroke-width="6"/>
</svg>
<svg x="477" y="327" width="192" height="144" viewBox="0 0 960 720" preserveAspectRatio="none" style="position:static">
<polygon fill="#e84b0c" class="k" points="-20,-20 980,-20 980,740 -20,740"/>
<polygon fill="#fea130" class="k" points="265,-20 917,-20 917,290 860,280 800,262 740,235 690,220 620,208 560,203 500,208 450,218 400,238 350,268 300,293 270,325 260,365 232,395 218,435 180,462 140,492 120,512 90,540 50,560 -20,570 -20,-20"/>
<polygon fill="#f5c53a" class="k" points="-20,-20 270,-20 275,40 260,80 235,110 245,150 262,190 250,222 200,232 155,225 142,260 142,300 142,350 137,395 100,388 85,388 60,405 70,440 45,475 -20,510"/>
<polygon fill="#dbe236" class="k" points="-20,-20 190,-20 195,40 190,80 175,120 190,150 185,190 150,220 140,260 140,300 140,350 135,393 100,385 60,372 -20,372"/>
<polygon fill="#b7f735" class="k" points="-20,-20 150,-20 165,40 170,80 150,120 130,160 120,200 125,250 128,300 130,350 125,385 110,360 90,337 60,332 20,337 -20,357"/>
<polygon fill="#8bff4b" class="k" points="-20,-20 75,-20 90,50 105,100 100,150 100,200 90,250 70,290 50,320 20,345 -20,355"/>
<polygon fill="#52fa7a" class="k" points="-20,-20 30,-20 35,50 50,100 45,150 45,200 50,250 45,300 20,330 -20,345"/>
<polygon fill="#22ebaa" class="k" points="-20,60 12,90 15,160 -20,200"/>
<polygon fill="#f9751d" class="k" points="330,-20 410,-20 420,40 400,90 420,140 470,150 540,145 600,150 650,130 700,140 750,170 800,200 860,230 917,250 917,290 860,280 800,262 740,235 690,220 620,208 560,203 500,208 450,218 400,238 350,268 300,293 275,320 300,250 290,200 300,140 320,80"/>
<polygon fill="#e84b0c" class="k" points="305,150 340,140 380,150 390,185 360,210 320,200"/>
<polygon fill="#e84b0c" class="k" points="420,105 470,100 520,110 525,130 480,138 430,128"/>
<polygon fill="#e84b0c" class="k" points="645,135 680,130 695,165 680,200 655,190"/>
<polygon fill="#f9751d" class="k" points="917,290 860,280 800,262 740,235 690,220 620,208 560,203 500,208 450,218 400,238 350,268 300,293 270,325 260,365 232,395 218,435 180,462 140,492 120,512 90,540 50,560 -20,570 -20,590 50,580 95,560 130,530 150,505 190,478 235,452 250,410 285,415 320,400 350,385 385,365 410,335 425,300 440,270 470,252 510,242 560,237 620,242 690,254 740,270 800,296 860,313 917,322"/>
<polygon fill="#fea130" class="k" points="275,330 300,305 340,295 380,290 405,300 390,330 360,350 330,365 300,375 305,395 280,400 265,370"/>
<polygon fill="#f9751d" class="k" points="-20,590 30,575 70,580 100,600 90,640 50,655 -20,650"/>
<polygon fill="#ce2d04" class="k" points="400,300 430,265 470,248 520,240 570,248 620,262 680,268 720,282 760,310 800,340 802,380 782,420 790,460 830,480 850,500 820,530 770,525 720,540 680,560 630,555 600,520 560,500 520,470 480,450 440,470 400,520 380,560 350,620 330,680 320,740 80,740 90,700 110,640 130,600 150,560 130,530 150,500 200,470 240,450 290,430 340,410 370,380 390,340"/>
<polygon fill="#a91601" class="k" points="370,450 340,470 300,490 260,520 230,550 200,590 185,640 165,690 150,740 225,740 262,690 290,650 320,600 345,550 370,510 380,470"/>
<polygon fill="#b0b0b0" stroke="#2a2a2a" stroke-width="6" points="790,-20 980,-20 980,100 890,120 865,110 850,80 830,70 810,50 790,30"/>
<polygon fill="#b7f735" class="k" points="850,-20 885,-20 890,40 870,70 850,50"/>
<polygon fill="#b0b0b0" stroke="#2a2a2a" stroke-width="6" points="900,175 917,165 980,165 980,250 905,255 895,220"/>
<circle cx="828" cy="257" r="23" fill="#b0b0b0" stroke="#2a2a2a" stroke-width="6"/>
<polygon fill="#b0b0b0" stroke="#2a2a2a" stroke-width="6" points="575,690 600,670 640,650 675,635 680,650 650,675 615,700 585,710"/>
<polygon fill="#b0b0b0" stroke="#2a2a2a" stroke-width="5" points="720,665 740,660 738,680 722,683"/>
</svg>
<svg x="477" y="471" width="192" height="144" viewBox="0 0 960 720" preserveAspectRatio="none" style="position:static">
<polygon fill="#ce2d04" class="k" points="-20,-20 980,-20 980,740 -20,740"/>
<polygon fill="#e84b0c" class="k" points="-20,-20 140,-20 112,22 60,46 -20,62"/>
<polygon fill="#a91601" class="k" points="150,-20 225,-20 205,40 178,120 150,180 130,240 105,300 88,360 90,422 90,740 -20,740 -20,75 60,58 120,32"/>
<polygon fill="#7a0403" class="k" points="-20,395 25,400 35,422 35,740 -20,740"/>
<polygon fill="#e84b0c" class="k" points="345,-20 352,55 400,42 460,12 520,32 570,42 620,22 680,42 720,22 760,-20"/>
<polygon fill="#e84b0c" class="k" points="215,85 250,75 272,95 262,150 232,165 218,130"/>
<polygon fill="#e84b0c" class="k" points="215,180 260,170 320,175 350,200 345,250 330,290 300,330 250,350 200,340 160,330 140,300 150,260 190,230 210,200"/>
<polygon fill="#e84b0c" class="k" points="820,150 850,125 875,150 890,190 870,215 830,215 812,185"/>
<polygon fill="#e84b0c" class="k" points="790,-20 800,40 830,60 860,100 900,110 980,100 980,-20"/>
<polygon fill="#a91601" class="k" points="640,422 660,395 700,375 750,368 780,385 790,422 790,740 640,740"/>
<polygon fill="#b0b0b0" stroke="#2a2a2a" stroke-width="6" points="290,395 300,360 320,335 345,315 365,295 390,270 405,250 418,260 410,285 390,305 370,320 350,340 330,360 315,385 300,405"/>
<polygon fill="#b0b0b0" stroke="#2a2a2a" stroke-width="6" points="525,45 540,35 552,55 548,80 532,88 524,70"/>
<polygon fill="#b0b0b0" stroke="#2a2a2a" stroke-width="5" points="455,145 475,130 492,133 480,148 462,155"/>
<polygon fill="#b0b0b0" stroke="#2a2a2a" stroke-width="5" points="112,348 128,342 138,352 125,362"/>
<polygon fill="#b0b0b0" stroke="#2a2a2a" stroke-width="5" points="342,215 355,200 365,210 352,228"/>
<polygon fill="#b0b0b0" stroke="#2a2a2a" stroke-width="5" points="575,-20 610,-20 600,15 582,12"/>
</svg>
</g>
<g stroke="#fff" stroke-width="2" stroke-dasharray="6.4 6.1" fill="none">
<line x1="433.5" y1="183" x2="346.5" y2="555.5"/>
<line x1="557" y1="183" x2="459" y2="555.5"/>
</g>
<polygon fill="#050505" points="380.6,401.9 385.0,400.0 396.2,401.0 399.8,406.2 401.9,412.5 403.8,418.8 404.8,424.4 401.9,429.4 399.8,435.0 399.8,439.8 391.2,439.2 382.5,439.5 375.6,438.2 374.4,433.8 375.6,427.5 375.2,421.9 377.8,416.2 380.2,410.0 380.6,405.0"/>
<circle cx="436.9" cy="427.8" r="2.3" fill="#000"/>
<circle cx="413.1" cy="425.0" r="2.3" fill="#000"/>
<circle cx="375.0" cy="456.2" r="2.3" fill="#000"/>
<circle cx="376.9" cy="455.0" r="2.3" fill="#000"/>
<circle cx="373.1" cy="458.1" r="2.3" fill="#000"/>
<g fill="#fff" stroke="#000" stroke-width="1">
<circle cx="383.6" cy="404.8" r="2.25"/>
<circle cx="395.5" cy="401.3" r="2.25"/>
<circle cx="391.3" cy="414.4" r="2.25"/>
<circle cx="374.0" cy="420.6" r="2.25"/>
<circle cx="387.3" cy="434.8" r="2.25"/>
<circle cx="394.6" cy="440.2" r="2.25"/>
<circle cx="392.8" cy="415.7" r="2.25"/>
<circle cx="403.0" cy="411.0" r="2.25"/>
<circle cx="383.1" cy="434.3" r="2.25"/>
<circle cx="378.4" cy="423.9" r="2.25"/>
<circle cx="395.0" cy="414.7" r="2.25"/>
<circle cx="391.7" cy="400.9" r="2.25"/>
<circle cx="396.5" cy="417.1" r="2.25"/>
<circle cx="383.3" cy="424.1" r="2.25"/>
<circle cx="388.3" cy="411.4" r="2.25"/>
<circle cx="400.7" cy="429.1" r="2.25"/>
<circle cx="380.7" cy="423.6" r="2.25"/>
<circle cx="390.9" cy="437.0" r="2.25"/>
<circle cx="398.3" cy="410.9" r="2.25"/>
<circle cx="387.0" cy="431.7" r="2.25"/>
<circle cx="377.4" cy="419.8" r="2.25"/>
<circle cx="399.6" cy="423.6" r="2.25"/>
<circle cx="403.6" cy="412.0" r="2.25"/>
<circle cx="397.1" cy="424.5" r="2.25"/>
<circle cx="392.9" cy="418.4" r="2.25"/>
<circle cx="402.3" cy="440.0" r="2.25"/>
<circle cx="389.1" cy="427.6" r="2.25"/>
<circle cx="374.1" cy="429.3" r="2.25"/>
<circle cx="401.7" cy="410.8" r="2.25"/>
<circle cx="385.9" cy="427.8" r="2.25"/>
<circle cx="374.0" cy="432.2" r="2.25"/>
<circle cx="386.0" cy="436.8" r="2.25"/>
<circle cx="391.8" cy="437.3" r="2.25"/>
<circle cx="401.6" cy="436.5" r="2.25"/>
<circle cx="382.0" cy="416.6" r="2.25"/>
<circle cx="384.9" cy="437.4" r="2.25"/>
<circle cx="380.3" cy="419.6" r="2.25"/>
<circle cx="393.2" cy="409.8" r="2.25"/>
<circle cx="385.3" cy="423.3" r="2.25"/>
<circle cx="390.6" cy="425.5" r="2.25"/>
<circle cx="396.4" cy="400.5" r="2.25"/>
<circle cx="386.1" cy="415.8" r="2.25"/>
<circle cx="375.6" cy="426.3" r="2.25"/>
<circle cx="379.4" cy="405.3" r="2.25"/>
<circle cx="384.2" cy="400.5" r="2.25"/>
<circle cx="394.1" cy="404.7" r="2.25"/>
<circle cx="381.0" cy="413.5" r="2.25"/>
<circle cx="385.1" cy="403.6" r="2.25"/>
<circle cx="387.2" cy="386.2" r="2.25"/>
<circle cx="385.6" cy="389.4" r="2.25"/>
<circle cx="388.5" cy="391.5" r="2.25"/>
<circle cx="383.1" cy="395.0" r="2.25"/>
<circle cx="386.2" cy="397.2" r="2.25"/>
<circle cx="410.0" cy="412.5" r="2.25"/>
<circle cx="414.0" cy="426.0" r="2.25"/>
<circle cx="417.2" cy="428.1" r="2.25"/>
<circle cx="437.8" cy="429.0" r="2.25"/>
<circle cx="406.9" cy="446.9" r="2.25"/>
<circle cx="412.8" cy="445.0" r="2.25"/>
<circle cx="401.9" cy="451.2" r="2.25"/>
<circle cx="411.5" cy="451.5" r="2.25"/>
<circle cx="412.5" cy="454.4" r="2.25"/>
<circle cx="408.1" cy="456.5" r="2.25"/>
<circle cx="399.8" cy="456.5" r="2.25"/>
<circle cx="393.8" cy="456.5" r="2.25"/>
<circle cx="368.1" cy="460.6" r="2.25"/>
<circle cx="378.8" cy="455.0" r="2.25"/>
<circle cx="380.6" cy="456.5" r="2.25"/>
<circle cx="382.5" cy="458.8" r="2.25"/>
<circle cx="375.0" cy="461.9" r="2.25"/>
<circle cx="377.5" cy="460.0" r="2.25"/>
<circle cx="375.0" cy="439.8" r="2.25"/>
<circle cx="378.8" cy="440.0" r="2.25"/>
<circle cx="382.5" cy="440.6" r="2.25"/>
<circle cx="386.9" cy="439.4" r="2.25"/>
<circle cx="392.5" cy="440.0" r="2.25"/>
<circle cx="396.2" cy="440.6" r="2.25"/>
<circle cx="400.0" cy="441.5" r="2.25"/>
<circle cx="403.1" cy="442.5" r="2.25"/>
<circle cx="381.0" cy="402.8" r="2.25"/>
<circle cx="397.5" cy="408.1" r="2.25"/>
<circle cx="403.1" cy="412.8" r="2.25"/>
<circle cx="404.0" cy="417.2" r="2.25"/>
<circle cx="405.2" cy="424.0" r="2.25"/>
<circle cx="402.5" cy="429.4" r="2.25"/>
<circle cx="375.6" cy="426.5" r="2.25"/>
<circle cx="374.8" cy="433.8" r="2.25"/>
<circle cx="380.0" cy="417.5" r="2.25"/>
<circle cx="382.5" cy="416.2" r="2.25"/>
<circle cx="391.2" cy="413.8" r="2.25"/>
<circle cx="398.8" cy="413.1" r="2.25"/>
<circle cx="397.0" cy="424.0" r="2.25"/>
<circle cx="395.5" cy="429.2" r="2.25"/>
<circle cx="393.8" cy="435.0" r="2.25"/>
<circle cx="380.6" cy="426.9" r="2.25"/>
<circle cx="383.1" cy="431.2" r="2.25"/>
<circle cx="378.8" cy="435.0" r="2.25"/>
<circle cx="388.8" cy="405.6" r="2.25"/>
<circle cx="385.0" cy="408.8" r="2.25"/>
<circle cx="401.2" cy="421.2" r="2.25"/>
<circle cx="400.6" cy="431.2" r="2.25"/>
</g>
<g font-size="10.4" stroke-width="0.25" text-anchor="middle" style="font-family:'Liberation Sans',sans-serif">
<text x="394.0" y="218.5" fill="#2e2e2e" stroke="#2e2e2e" transform="rotate(0 394.0 215.0)">8</text>
<text x="395.0" y="236.1" fill="#2e2e2e" stroke="#2e2e2e" transform="rotate(-20 395.0 232.6)">9</text>
<text x="391.0" y="250.1" fill="#2e2e2e" stroke="#2e2e2e" transform="rotate(0 391.0 246.6)">10</text>
<text x="403.4" y="255.5" fill="#2e2e2e" stroke="#2e2e2e" transform="rotate(30 403.4 252.0)">11</text>
<text x="423.0" y="258.1" fill="#2e2e2e" stroke="#2e2e2e" transform="rotate(-55 423.0 254.6)">12</text>
<text x="430.0" y="280.1" fill="#2e2e2e" stroke="#2e2e2e" transform="rotate(60 430.0 276.6)">12</text>
<text x="448.0" y="280.9" fill="#2e2e2e" stroke="#2e2e2e" transform="rotate(60 448.0 277.4)">13</text>
<text x="465.0" y="288.9" fill="#2e2e2e" stroke="#2e2e2e" transform="rotate(-60 465.0 285.4)">14</text>
<text x="466.0" y="327.5" fill="#2e2e2e" stroke="#2e2e2e" transform="rotate(0 466.0 324.0)">13</text>
<text x="371.0" y="240.1" fill="#2e2e2e" stroke="#2e2e2e" transform="rotate(-70 371.0 236.6)">9</text>
<text x="355.0" y="228.9" fill="#2e2e2e" stroke="#2e2e2e" transform="rotate(-70 355.0 225.4)">8</text>
<text x="387.0" y="280.9" fill="#2e2e2e" stroke="#2e2e2e" transform="rotate(0 387.0 277.4)">8</text>
<text x="397.0" y="292.9" fill="#2e2e2e" stroke="#2e2e2e" transform="rotate(0 397.0 289.4)">8</text>
<text x="387.0" y="316.1" fill="#2e2e2e" stroke="#2e2e2e" transform="rotate(-20 387.0 312.6)">9</text>
<text x="304.0" y="236.5" fill="#666" stroke="#666" transform="rotate(0 304.0 233.0)">5</text>
<text x="295.0" y="252.5" fill="#666" stroke="#666" transform="rotate(0 295.0 249.0)">5</text>
<text x="303.0" y="253.5" fill="#666" stroke="#666" transform="rotate(0 303.0 250.0)">5</text>
<text x="313.0" y="283.5" fill="#666" stroke="#666" transform="rotate(0 313.0 280.0)">5</text>
<text x="297.0" y="261.5" fill="#666" stroke="#666" transform="rotate(0 297.0 258.0)">6</text>
<text x="306.0" y="259.5" fill="#666" stroke="#666" transform="rotate(0 306.0 256.0)">5</text>
<text x="326.0" y="255.5" fill="#666" stroke="#666" transform="rotate(0 326.0 252.0)">6</text>
<text x="343.0" y="194.5" fill="#555" stroke="#555" transform="rotate(0 343.0 191.0)">8</text>
<text x="349.0" y="193.5" fill="#555" stroke="#555" transform="rotate(0 349.0 190.0)">8</text>
<text x="403.0" y="195.5" fill="#555" stroke="#555" transform="rotate(0 403.0 192.0)">7</text>
<text x="591.0" y="194.1" fill="#2e2e2e" stroke="#2e2e2e" transform="rotate(0 591.0 190.6)">14</text>
<text x="637.0" y="194.9" fill="#2e2e2e" stroke="#2e2e2e" transform="rotate(0 637.0 191.4)">14</text>
<text x="654.0" y="207.5" fill="#2e2e2e" stroke="#2e2e2e" transform="rotate(-60 654.0 204.0)">14</text>
<text x="631.0" y="234.1" fill="#2e2e2e" stroke="#2e2e2e" transform="rotate(-20 631.0 230.6)">14</text>
<text x="579.0" y="224.9" fill="#2e2e2e" stroke="#2e2e2e" transform="rotate(0 579.0 221.4)">15</text>
<text x="558.0" y="230.5" fill="#2e2e2e" stroke="#2e2e2e" transform="rotate(0 558.0 227.0)">14</text>
<text x="549.4" y="223.5" fill="#2e2e2e" stroke="#2e2e2e" transform="rotate(0 549.4 220.0)">13</text>
<text x="545.4" y="214.9" fill="#2e2e2e" stroke="#2e2e2e" transform="rotate(0 545.4 211.4)">12</text>
<text x="486.0" y="244.9" fill="#2e2e2e" stroke="#2e2e2e" transform="rotate(-30 486.0 241.4)">13</text>
<text x="508.0" y="238.9" fill="#2e2e2e" stroke="#2e2e2e" transform="rotate(0 508.0 235.4)">13</text>
<text x="551.4" y="284.1" fill="#2e2e2e" stroke="#2e2e2e" transform="rotate(0 551.4 280.6)">16</text>
<text x="554.6" y="292.1" fill="#2e2e2e" stroke="#2e2e2e" transform="rotate(180 554.6 288.6)">16</text>
<text x="601.0" y="278.1" fill="#2e2e2e" stroke="#2e2e2e" transform="rotate(-15 601.0 274.6)">15</text>
<text x="603.0" y="293.5" fill="#2e2e2e" stroke="#2e2e2e" transform="rotate(80 603.0 290.0)">16</text>
<text x="521.4" y="312.9" fill="#2e2e2e" stroke="#2e2e2e" transform="rotate(20 521.4 309.4)">17</text>
<text x="541.0" y="308.9" fill="#2e2e2e" stroke="#2e2e2e" transform="rotate(-20 541.0 305.4)">17</text>
<text x="603.0" y="318.1" fill="#2e2e2e" stroke="#2e2e2e" transform="rotate(0 603.0 314.6)">17</text>
<text x="481.4" y="303.5" fill="#2e2e2e" stroke="#2e2e2e" transform="rotate(-90 481.4 300.0)">15</text>
<text x="410.0" y="342.9" fill="#2e2e2e" stroke="#2e2e2e" transform="rotate(0 410.0 339.4)">10</text>
<text x="395.0" y="350.1" fill="#2e2e2e" stroke="#2e2e2e" transform="rotate(-15 395.0 346.6)">12</text>
<text x="410.0" y="358.9" fill="#2e2e2e" stroke="#2e2e2e" transform="rotate(-15 410.0 355.4)">11</text>
<text x="384.0" y="368.5" fill="#2e2e2e" stroke="#2e2e2e" transform="rotate(0 384.0 365.0)">14</text>
<text x="356.0" y="351.1" fill="#2e2e2e" stroke="#2e2e2e" transform="rotate(0 356.0 347.6)">10</text>
<text x="366.0" y="360.9" fill="#2e2e2e" stroke="#2e2e2e" transform="rotate(30 366.0 357.4)">11</text>
<text x="363.0" y="384.1" fill="#2e2e2e" stroke="#2e2e2e" transform="rotate(60 363.0 380.6)">12</text>
<text x="370.0" y="410.9" fill="#2e2e2e" stroke="#2e2e2e" transform="rotate(30 370.0 407.4)">13</text>
<text x="404.0" y="400.1" fill="#2e2e2e" stroke="#2e2e2e" transform="rotate(70 404.0 396.6)">15</text>
<text x="360.0" y="428.9" fill="#2e2e2e" stroke="#2e2e2e" transform="rotate(-15 360.0 425.4)">15</text>
<text x="357.0" y="440.1" fill="#2e2e2e" stroke="#2e2e2e" transform="rotate(-15 357.0 436.6)">16</text>
<text x="347.4" y="448.9" fill="#2e2e2e" stroke="#2e2e2e" transform="rotate(60 347.4 445.4)">14</text>
<text x="339.4" y="440.1" fill="#2e2e2e" stroke="#2e2e2e" transform="rotate(40 339.4 436.6)">12</text>
<text x="328.0" y="438.9" fill="#2e2e2e" stroke="#2e2e2e" transform="rotate(30 328.0 435.4)">11</text>
<text x="426.0" y="460.9" fill="#2e2e2e" stroke="#2e2e2e" transform="rotate(-30 426.0 457.4)">17</text>
<text x="467.0" y="432.9" fill="#2e2e2e" stroke="#2e2e2e" transform="rotate(90 467.0 429.4)">18</text>
<text x="467.4" y="468.9" fill="#2e2e2e" stroke="#2e2e2e" transform="rotate(-60 467.4 465.4)">20</text>
<text x="543.0" y="334.9" fill="#2e2e2e" stroke="#2e2e2e" transform="rotate(-15 543.0 331.4)">19</text>
<text x="520.0" y="344.1" fill="#2e2e2e" stroke="#2e2e2e" transform="rotate(-60 520.0 340.6)">17</text>
<text x="595.0" y="332.9" fill="#2e2e2e" stroke="#2e2e2e" transform="rotate(-70 595.0 329.4)">19</text>
<text x="631.0" y="346.9" fill="#2e2e2e" stroke="#2e2e2e" transform="rotate(-60 631.0 343.4)">18</text>
<text x="625.0" y="356.1" fill="#2e2e2e" stroke="#2e2e2e" transform="rotate(-30 625.0 352.6)">18</text>
<text x="549.4" y="368.1" fill="#2e2e2e" stroke="#2e2e2e" transform="rotate(-60 549.4 364.6)">20</text>
<text x="583.0" y="358.1" fill="#2e2e2e" stroke="#2e2e2e" transform="rotate(30 583.0 354.6)">20</text>
<text x="573.0" y="370.9" fill="#2e2e2e" stroke="#2e2e2e" transform="rotate(-20 573.0 367.4)">19</text>
<text x="599.0" y="370.1" fill="#2e2e2e" stroke="#2e2e2e" transform="rotate(20 599.0 366.6)">19</text>
<text x="615.0" y="374.9" fill="#2e2e2e" stroke="#2e2e2e" transform="rotate(40 615.0 371.4)">20</text>
<text x="635.0" y="372.9" fill="#2e2e2e" stroke="#2e2e2e" transform="rotate(-20 635.0 369.4)">19</text>
<text x="651.0" y="386.1" fill="#2e2e2e" stroke="#2e2e2e" transform="rotate(-45 651.0 382.6)">19</text>
<text x="570.0" y="382.1" fill="#444" stroke="#444" transform="rotate(-30 570.0 378.6)">21</text>
<text x="500.0" y="390.9" fill="#2e2e2e" stroke="#2e2e2e" transform="rotate(-60 500.0 387.4)">16</text>
<text x="598.0" y="420.1" fill="#444" stroke="#444" transform="rotate(0 598.0 416.6)">21</text>
<text x="650.0" y="416.9" fill="#444" stroke="#444" transform="rotate(0 650.0 413.4)">21</text>
<text x="534.0" y="458.5" fill="#555" stroke="#555" transform="rotate(-60 534.0 455.0)">22</text>
<text x="537.0" y="469.5" fill="#555" stroke="#555" transform="rotate(-30 537.0 466.0)">21</text>
<text x="309.0" y="488.1" fill="#2e2e2e" stroke="#2e2e2e" transform="rotate(-60 309.0 484.6)">12</text>
<text x="307.0" y="500.1" fill="#2e2e2e" stroke="#2e2e2e" transform="rotate(-60 307.0 496.6)">13</text>
<text x="311.0" y="510.1" fill="#2e2e2e" stroke="#2e2e2e" transform="rotate(-60 311.0 506.6)">15</text>
<text x="317.0" y="517.5" fill="#2e2e2e" stroke="#2e2e2e" transform="rotate(-60 317.0 514.0)">16</text>
<text x="317.0" y="524.1" fill="#2e2e2e" stroke="#2e2e2e" transform="rotate(-60 317.0 520.6)">17</text>
<text x="318.0" y="544.9" fill="#2e2e2e" stroke="#2e2e2e" transform="rotate(-50 318.0 541.4)">18</text>
<text x="346.0" y="518.1" fill="#444" stroke="#444" transform="rotate(-40 346.0 514.6)">21</text>
<text x="362.6" y="514.5" fill="#444" stroke="#444" transform="rotate(-15 362.6 511.0)">20</text>
<text x="385.0" y="508.9" fill="#444" stroke="#444" transform="rotate(30 385.0 505.4)">19</text>
<text x="378.6" y="525.5" fill="#666" stroke="#666" transform="rotate(10 378.6 522.0)">22</text>
<text x="401.0" y="538.9" fill="#777" stroke="#777" transform="rotate(15 401.0 535.4)">23</text>
<text x="380.0" y="554.1" fill="#777" stroke="#777" transform="rotate(0 380.0 550.6)">24</text>
<text x="489.0" y="511.5" fill="#666" stroke="#666" transform="rotate(-40 489.0 508.0)">22</text>
<text x="485.0" y="526.9" fill="#666" stroke="#666" transform="rotate(-30 485.0 523.4)">22</text>
<text x="522.0" y="521.5" fill="#555" stroke="#555" transform="rotate(45 522.0 518.0)">21</text>
<text x="619.0" y="484.5" fill="#555" stroke="#555" transform="rotate(-70 619.0 481.0)">21</text>
<text x="644.0" y="515.5" fill="#555" stroke="#555" transform="rotate(15 644.0 512.0)">21</text>
<text x="617.0" y="550.9" fill="#666" stroke="#666" transform="rotate(-30 617.0 547.4)">22</text>
<text x="533.0" y="476.9" fill="#555" stroke="#555" transform="rotate(30 533.0 473.4)">21</text>
<text x="647.0" y="490.5" fill="#555" stroke="#555" transform="rotate(40 647.0 487.0)">21</text>
</g>
</g>
<g stroke="#000" stroke-opacity="0.13" stroke-width="0.7"><line x1="323.0" y1="183" x2="323.0" y2="555.5"/><line x1="398.0" y1="183" x2="398.0" y2="555.5"/><line x1="473.0" y1="183" x2="473.0" y2="555.5"/><line x1="548.0" y1="183" x2="548.0" y2="555.5"/><line x1="623.0" y1="183" x2="623.0" y2="555.5"/><line x1="285.5" y1="475.6" x2="660.5" y2="475.6"/><line x1="285.5" y1="394.2" x2="660.5" y2="394.2"/><line x1="285.5" y1="311.1" x2="660.5" y2="311.1"/><line x1="285.5" y1="226.2" x2="660.5" y2="226.2"/></g>
<rect x="285.5" y="183" width="375" height="372.5" fill="none" stroke="#151515" stroke-width="1.2"/>
<g stroke="#222" stroke-width="1"><line x1="323.0" y1="555.5" x2="323.0" y2="559.5"/><line x1="323.0" y1="183" x2="323.0" y2="179"/><line x1="398.0" y1="555.5" x2="398.0" y2="559.5"/><line x1="398.0" y1="183" x2="398.0" y2="179"/><line x1="473.0" y1="555.5" x2="473.0" y2="559.5"/><line x1="473.0" y1="183" x2="473.0" y2="179"/><line x1="548.0" y1="555.5" x2="548.0" y2="559.5"/><line x1="548.0" y1="183" x2="548.0" y2="179"/><line x1="623.0" y1="555.5" x2="623.0" y2="559.5"/><line x1="623.0" y1="183" x2="623.0" y2="179"/><line x1="285.5" y1="555.5" x2="281.5" y2="555.5"/><line x1="660.5" y1="555.5" x2="664.5" y2="555.5"/><line x1="285.5" y1="475.6" x2="281.5" y2="475.6"/><line x1="660.5" y1="475.6" x2="664.5" y2="475.6"/><line x1="285.5" y1="394.2" x2="281.5" y2="394.2"/><line x1="660.5" y1="394.2" x2="664.5" y2="394.2"/><line x1="285.5" y1="311.1" x2="281.5" y2="311.1"/><line x1="660.5" y1="311.1" x2="664.5" y2="311.1"/><line x1="285.5" y1="226.2" x2="281.5" y2="226.2"/><line x1="660.5" y1="226.2" x2="664.5" y2="226.2"/></g>
<g font-size="19.7" fill="#000">
<text x="323.5" y="579.6" text-anchor="middle">122°E</text>
<text x="398.5" y="579.6" text-anchor="middle">124°E</text>
<text x="473.5" y="579.6" text-anchor="middle">126°E</text>
<text x="548.5" y="579.6" text-anchor="middle">128°E</text>
<text x="623.5" y="579.6" text-anchor="middle">130°E</text>
<text x="276.3" y="563.1" text-anchor="end">26°N</text>
<text x="276.3" y="483.2" text-anchor="end">28°N</text>
<text x="276.3" y="401.8" text-anchor="end">30°N</text>
<text x="276.3" y="318.7" text-anchor="end">32°N</text>
<text x="276.3" y="233.8" text-anchor="end">34°N</text>
</g>
<text x="472.7" y="177.3" text-anchor="middle" font-size="21" fill="#000">2026/02/15</text>
<rect x="690.5" y="534.81" width="16.5" height="20.99" fill="#30123b"/>
<rect x="690.5" y="514.11" width="16.5" height="20.99" fill="#3f3e9c"/>
<rect x="690.5" y="493.42" width="16.5" height="20.99" fill="#4666dd"/>
<rect x="690.5" y="472.72" width="16.5" height="20.99" fill="#458cfd"/>
<rect x="690.5" y="452.03" width="16.5" height="20.99" fill="#2fb2f4"/>
<rect x="690.5" y="431.33" width="16.5" height="20.99" fill="#1ad4d0"/>
<rect x="690.5" y="410.64" width="16.5" height="20.99" fill="#22ebaa"/>
<rect x="690.5" y="389.94" width="16.5" height="20.99" fill="#52fa7a"/>
<rect x="690.5" y="369.25" width="16.5" height="20.99" fill="#8bff4b"/>
<rect x="690.5" y="348.56" width="16.5" height="20.99" fill="#b7f735"/>
<rect x="690.5" y="327.86" width="16.5" height="20.99" fill="#dbe236"/>
<rect x="690.5" y="307.17" width="16.5" height="20.99" fill="#f5c53a"/>
<rect x="690.5" y="286.47" width="16.5" height="20.99" fill="#fea130"/>
<rect x="690.5" y="265.78" width="16.5" height="20.99" fill="#f9751d"/>
<rect x="690.5" y="245.08" width="16.5" height="20.99" fill="#e84b0c"/>
<rect x="690.5" y="224.39" width="16.5" height="20.99" fill="#ce2d04"/>
<rect x="690.5" y="203.69" width="16.5" height="20.99" fill="#a91601"/>
<rect x="690.5" y="183.00" width="16.5" height="20.99" fill="#7a0403"/>
<rect x="690.5" y="183" width="16.5" height="372.5" fill="none" stroke="#222" stroke-width="0.8"/>
<g font-size="17.2" fill="#000">
<line x1="704" y1="555.5" x2="707" y2="555.5" stroke="#222" stroke-width="0.8"/>
<text x="713.3" y="562.4">6</text>
<line x1="704" y1="514.1" x2="707" y2="514.1" stroke="#222" stroke-width="0.8"/>
<text x="713.3" y="521.0">8</text>
<line x1="704" y1="472.7" x2="707" y2="472.7" stroke="#222" stroke-width="0.8"/>
<text x="713.3" y="479.6">10</text>
<line x1="704" y1="431.3" x2="707" y2="431.3" stroke="#222" stroke-width="0.8"/>
<text x="713.3" y="438.2">12</text>
<line x1="704" y1="389.9" x2="707" y2="389.9" stroke="#222" stroke-width="0.8"/>
<text x="713.3" y="396.8">14</text>
<line x1="704" y1="348.6" x2="707" y2="348.6" stroke="#222" stroke-width="0.8"/>
<text x="713.3" y="355.5">16</text>
<line x1="704" y1="307.2" x2="707" y2="307.2" stroke="#222" stroke-width="0.8"/>
<text x="713.3" y="314.1">18</text>
<line x1="704" y1="265.8" x2="707" y2="265.8" stroke="#222" stroke-width="0.8"/>
<text x="713.3" y="272.7">20</text>
<line x1="704" y1="224.4" x2="707" y2="224.4" stroke="#222" stroke-width="0.8"/>
<text x="713.3" y="231.3">22</text>
<line x1="704" y1="183.0" x2="707" y2="183.0" stroke="#222" stroke-width="0.8"/>
<text x="713.3" y="189.9">24</text>
</g>
<text x="647.5" y="173.2" font-size="17" letter-spacing="0.35" fill="#000">海面水温 [°C]</text>
</svg>
</body></html>
